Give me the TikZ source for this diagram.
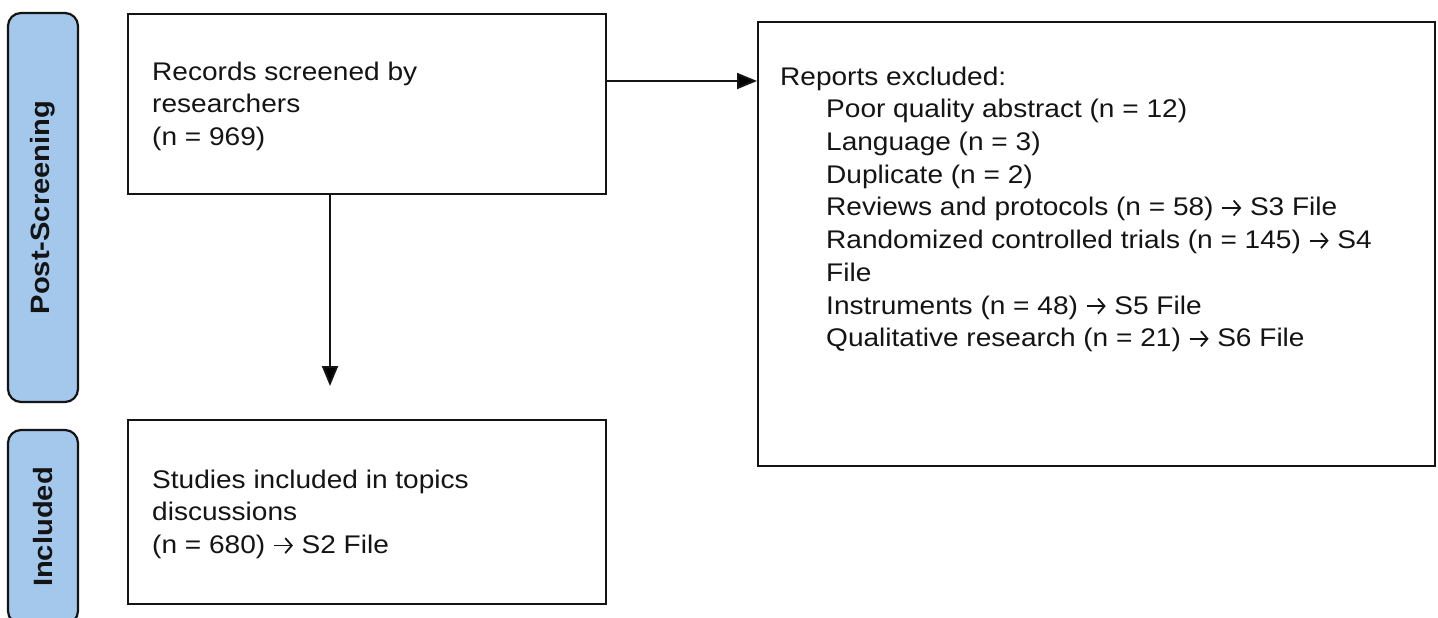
\documentclass[tikz,border=0pt]{standalone}
\usepackage{fontspec}
\setmainfont[FakeStretch=1.1]{Liberation Sans}
\usetikzlibrary{arrows.meta,calc}
\definecolor{pillblue}{RGB}{164,199,236}
\definecolor{ink}{RGB}{20,20,20}
\newcommand{\arw}{\tikz[baseline=0pt]{\draw[draw=ink,line width=1.8pt,-{Straight Barb[length=6.5pt,width=15pt,line width=1.8pt]}] (0pt,8pt) -- (19pt,8pt);}}
\begin{document}
\begin{tikzpicture}[x=1pt,y=-1pt,
  box/.style={draw=ink,line width=2pt,rectangle,inner sep=0pt,anchor=north west},
  pill/.style={draw=ink,fill=pillblue,line width=2.2pt,rounded corners=13pt,inner sep=0pt,rotate=90,
    font=\fontsize{26.5}{30}\selectfont\bfseries,text=ink,minimum height=70pt},
  txt/.style={anchor=north west,inner sep=0pt,align=left,text=ink,
    font=\fontsize{25.5}{32.7}\selectfont},
  arr/.style={draw=ink,line width=2pt,-{Triangle[length=20pt,width=16pt]}}
]
\useasboundingbox[fill=white] (0,0) rectangle (1438,618);

% side labels
\node[pill,minimum width=389pt] (p1) at (43,207.5) {Post-Screening};
\node[pill,minimum width=194pt] (p2) at (43,527) {Included};

% boxes
\node[box,minimum width=478pt,minimum height=180pt] (b1) at (127,13) {};
\node[box,minimum width=478pt,minimum height=184pt] (b2) at (127,419) {};
\node[box,minimum width=677pt,minimum height=444pt] (b3) at (757,21) {};

% texts
\node[txt] (t1) at (152,61.5) {Records screened by\\researchers\\(n = 969)};
\node[txt] (t2) at (152,469.5) {Studies included in topics\\discussions\\(n = 680) \arw{} S2 File};
\node[txt] (t3) at (780,66.5) {Reports excluded:\\
\hspace*{46pt}Poor quality abstract (n = 12)\\
\hspace*{46pt}Language (n = 3)\\
\hspace*{46pt}Duplicate (n = 2)\\
\hspace*{46pt}Reviews and protocols (n = 58) \arw{} S3 File\\
\hspace*{46pt}Randomized controlled trials (n = 145) \arw{} S4\\
\hspace*{46pt}File\\
\hspace*{46pt}Instruments (n = 48) \arw{} S5 File\\
\hspace*{46pt}Qualitative research (n = 21) \arw{} S6 File};

% connectors
\draw[arr] ([yshift=23pt]b1.east) coordinate (h) -- (h -| b3.west);
\coordinate (v) at (330,386);
\draw[arr] (b1.south -| v) -- (v);
\end{tikzpicture}
\end{document}
